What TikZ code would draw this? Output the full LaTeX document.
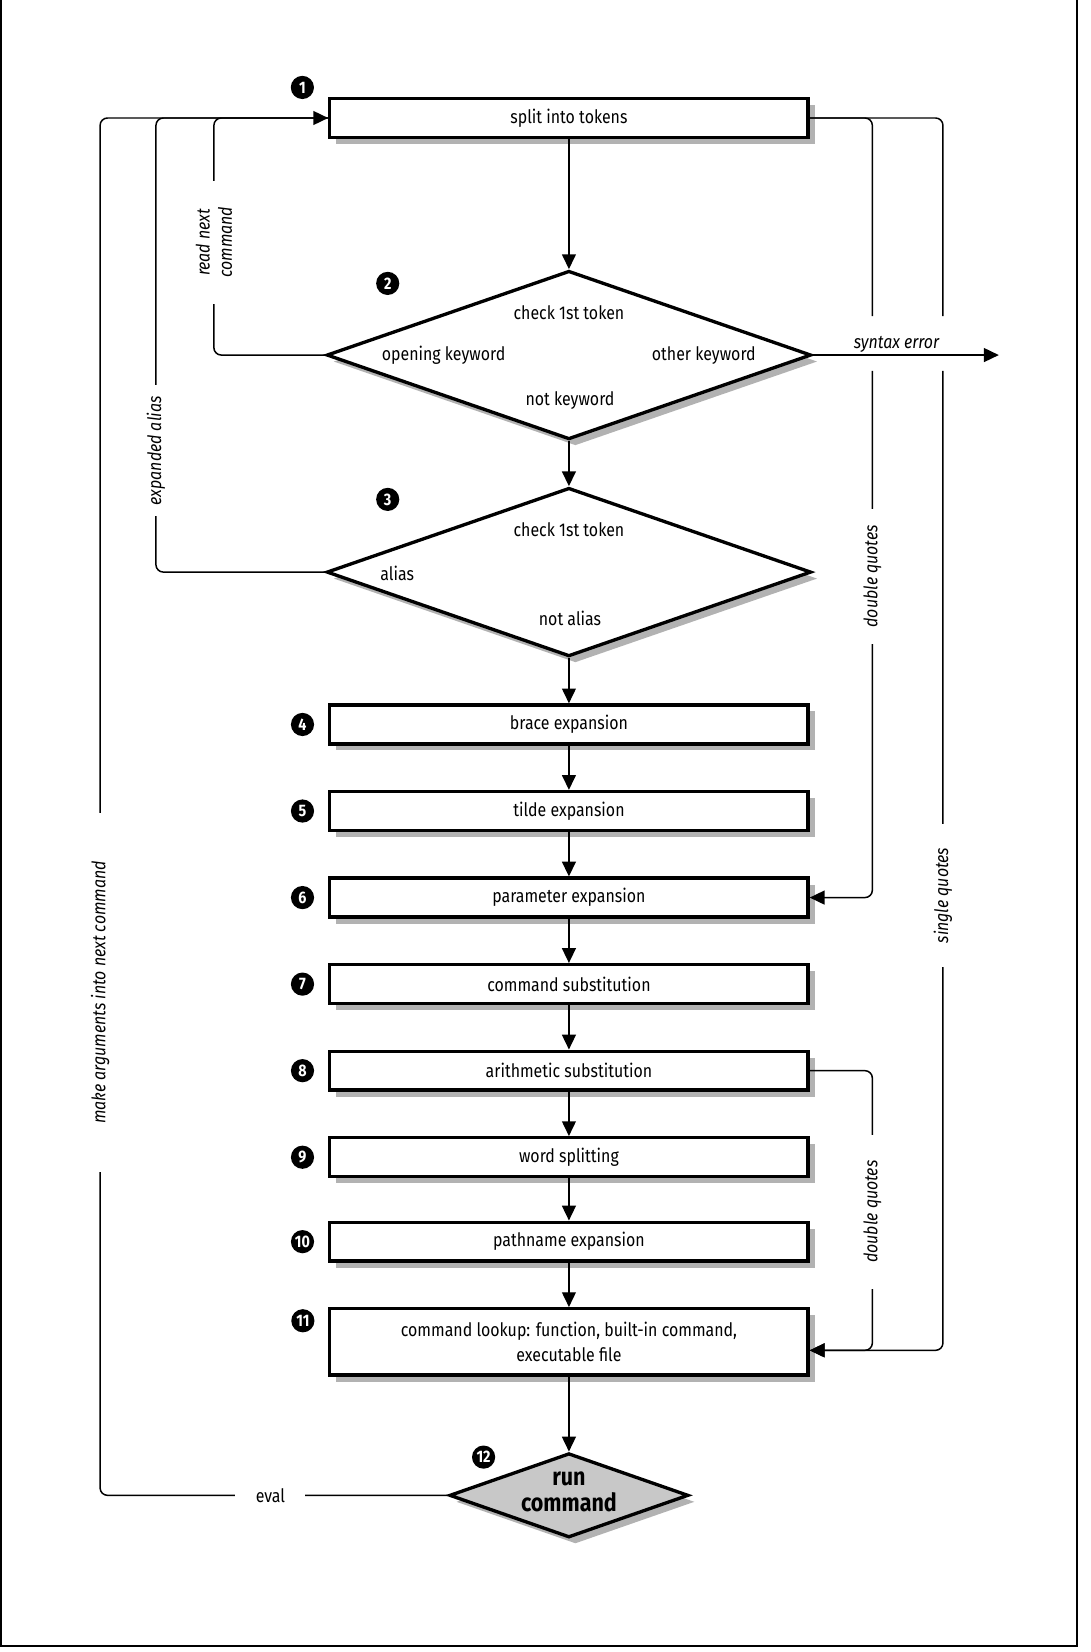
\documentclass[tikz,border=0pt]{standalone}
\usepackage{fontspec}
\setmainfont{Fira Sans}[FakeStretch=0.86]
\usepackage{tikz}
\usetikzlibrary{arrows.meta, positioning, calc, shapes.geometric, shadows}
\definecolor{RunGray}{HTML}{C8C8C8}
\tikzset{
  soft shadow/.style={drop shadow={shadow xshift=3.5pt, shadow yshift=-3.5pt,
                      fill=black, opacity=0.3}},
  step box/.style={rectangle, draw, line width=1.8pt, fill=white,
                   minimum width=9.08cm, minimum height=0.74cm, inner sep=0pt,
                   font=\fontsize{10}{14}\selectfont, soft shadow},
  test node/.style={diamond, draw, line width=1.8pt, fill=white,
                    minimum width=9.2cm, minimum height=3.2cm, inner sep=0pt,
                    soft shadow},
  run node/.style={test node, fill=RunGray, minimum width=4.54cm,
                   minimum height=1.6cm},
  run label/.style={align=center, inner sep=0pt,
                    font=\fontsize{13.5}{14}\selectfont\bfseries},
  num node/.style={circle, fill=black, text=white, minimum size=0.44cm,
                   inner sep=0pt, font=\fontsize{9}{9}\selectfont\bfseries},
  in label/.style={inner sep=1pt, font=\fontsize{10}{12}\selectfont},
  err label/.style={in label, font=\fontsize{10}{12}\selectfont\itshape},
  side label/.style={fill=white, rotate=90, align=center, inner ysep=1pt,
                     font=\fontsize{10}{12}\selectfont\itshape},
  flow edge/.style={-{Triangle[length=8pt, width=7.5pt]}, line width=0.8pt},
  loop edge/.style={line width=0.8pt, rounded corners=4pt},
}
\begin{document}
\begin{tikzpicture}[x=0.02cm, y=-0.02cm, node distance=0.84cm]
  \useasboundingbox (0,0) rectangle (1035,1568);
  \draw[line width=1.2pt] (1,0) -- (1,1562) -- (1022,1562) -- (1022,0);

  \node[step box] (split) at (540,112) {split into tokens};
  \node[test node] (tok1) at (540,337) {};
  \node[test node] (tok2) at (540,543) {};
  \node[step box, below=0.86cm of tok2] (brace) {brace expansion};
  \node[step box, below=of brace] (tilde) {tilde expansion};
  \node[step box, below=of tilde] (param) {parameter expansion};
  \node[step box, below=of param] (cmdsub) {command substitution};
  \node[step box, below=of cmdsub] (arith) {arithmetic substitution};
  \node[step box, below=of arith] (words) {word splitting};
  \node[step box, below=0.8cm of words] (pathx) {pathname expansion};
  \node[step box, minimum height=1.26cm, align=center, below=of pathx] (lookup)
    {command lookup: function, built-in command,\\executable file};
  \node[run node, below=1.42cm of lookup] (run) {};
  \node[run label] (runtxt) at ($(run)+(0,-3)$) {run\\command};

  \node[in label] (tok1q) at ($(tok1)+(0,-40)$) {check 1st token};
  \node[in label] (tok1op) at ($(tok1)+(-119,0)$) {opening keyword};
  \node[in label] (tok1ot) at ($(tok1)+(128,0)$) {other keyword};
  \node[in label] (tok1no) at ($(tok1)+(1,43)$) {not keyword};
  \node[in label] (tok2q) at ($(tok2)+(0,-40)$) {check 1st token};
  \node[in label] (tok2al) at ($(tok2)+(-163,1)$) {alias};
  \node[in label] (tok2no) at ($(tok2)+(1,44)$) {not alias};

  \node[num node] (n1) at (287,83) {1};
  \node[num node] (n2) at (368,269) {2};
  \node[num node] (n3) at (368,474) {3};
  \node[num node, left=0.26cm of brace.west] (n4) {4};
  \node[num node, left=0.26cm of tilde.west] (n5) {5};
  \node[num node, left=0.26cm of param.west] (n6) {6};
  \node[num node, left=0.26cm of cmdsub.west] (n7) {7};
  \node[num node, left=0.26cm of arith.west] (n8) {8};
  \node[num node, left=0.26cm of words.west] (n9) {9};
  \node[num node, left=0.26cm of pathx.west] (n10) {10};
  \node[num node] (n11) at ($(lookup.north west)+(-24,13)$) {11};
  \node[num node] (n12) at (459,1383) {12};

  \draw[flow edge] (split) -- (tok1);
  \draw[flow edge] (tok1) -- (tok2);
  \draw[flow edge] (tok2) -- (brace);
  \foreach \a/\b in {brace/tilde, tilde/param, param/cmdsub, cmdsub/arith,
                     arith/words, words/pathx, pathx/lookup, lookup/run}
    \draw[flow edge] (\a) -- (\b);

  \coordinate (colA) at (95,0);
  \coordinate (colB) at (148,0);
  \coordinate (colC) at (203,0);
  \coordinate (colD) at (828,0);
  \coordinate (colE) at (895,0);
  \coordinate (gapTop) at (0,300);
  \coordinate (gapBot) at (0,352);
  \coordinate (lkin) at ($(lookup.east)+(0,8)$);
  \coordinate (errEnd) at (948,337);

  \draw[loop edge, flow edge] (run.west) -| (colA |- split.west) -- (split.west);
  \draw[loop edge] (tok2.west) -| (colB |- split.west) -- (split.west);
  \draw[loop edge] (tok1.west) -| (colC |- split.west) -- (split.west);

  \draw[loop edge] (split.east) -| (colD |- gapTop);
  \draw[loop edge] (split.east) -| (colE |- gapTop);
  \draw[loop edge, flow edge] (colD |- gapBot) |- (param.east);
  \draw[loop edge, flow edge] (colE |- gapBot) |- (lkin);
  \draw[loop edge, flow edge] (arith.east) -| (colD |- lkin) -- (lkin);
  \draw[flow edge] (tok1.east) -- node[err label, above, pos=0.45] (errlbl)
    {syntax error} (errEnd);

  \node[side label, inner xsep=26pt] (lblA) at (95,942) {make arguments into next command};
  \node[side label, inner xsep=6pt] (lblB) at (148,428) {expanded alias};
  \node[side label, inner xsep=14pt] (lblC) at (203,230) {read next\\command};
  \node[side label, inner xsep=9pt] (lblD) at (828,547) {double quotes};
  \node[side label, inner xsep=13pt] (lblE) at (895,850) {single quotes};
  \node[side label, inner xsep=14pt] (lblF) at (828,1150) {double quotes};
  \node[in label, fill=white, inner xsep=11pt] (lblG)
    at ($(colA |- run.west)!0.49!(run.west)$) {eval};
\end{tikzpicture}
\end{document}
